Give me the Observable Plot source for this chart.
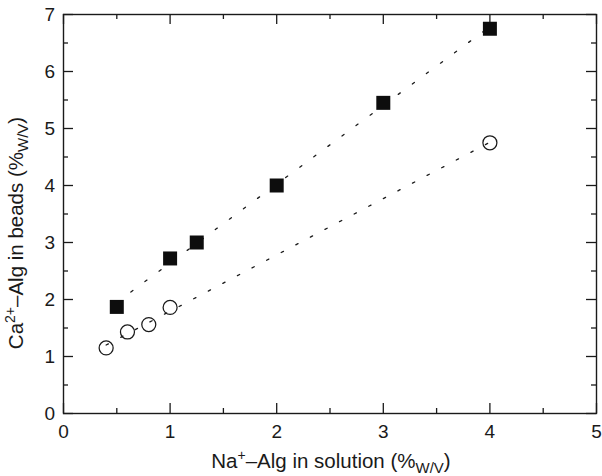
<!DOCTYPE html>
<html>
<head>
<meta charset="utf-8">
<script src="https://cdn.jsdelivr.net/npm/d3@7"></script>
<script src="https://cdn.jsdelivr.net/npm/@observablehq/plot@0.6"></script>
<style>
  html, body { margin: 0; padding: 0; background: white; }
</style>
</head>
<body>
<div id="chart"></div>
<script>
// Filled squares series
const squareX = [0.5, 1.0, 1.25, 2.0, 3.0, 4.0];
const squareY = [1.87, 2.72, 3.0, 4.0, 5.45, 6.75];
// Open circles series
const circleX = [0.4, 0.6, 0.8, 1.0, 4.0];
const circleY = [1.15, 1.43, 1.56, 1.86, 4.75];
// Ticks
const xMajor = [0, 1, 2, 3, 4, 5];
const xMinor = [0.5, 1.5, 2.5, 3.5, 4.5];
const yMajor = [0, 1, 2, 3, 4, 5, 6, 7];
const yMinor = [0.5, 1.5, 2.5, 3.5, 4.5, 5.5, 6.5];

const squares = squareX.map((x, i) => ({x, y: squareY[i]}));
const circles = circleX.map((x, i) => ({x, y: circleY[i]}));

const ink = "#1a1a1a";
const W = 602, H = 476, mL = 63, mR = 6, mT = 14, mB = 63;
const innerW = W - mL - mR, innerH = H - mT - mB;
const fmt = d3.format("d");

const svg = Plot.plot({
  width: W,
  height: H,
  marginLeft: mL,
  marginRight: mR,
  marginTop: mT,
  marginBottom: mB,
  x: {domain: [0, 5]},
  y: {domain: [0, 7]},
  style: {fontFamily: "'Liberation Sans', Arial, sans-serif", fontSize: "19px", color: ink, background: "white"},
  marks: [
    // inward tick marks on all four sides
    Plot.ruleX(xMajor, {insetTop: innerH - 10, stroke: ink, strokeWidth: 1.3}),
    Plot.ruleX(xMinor, {insetTop: innerH - 5, stroke: ink, strokeWidth: 1.3}),
    Plot.ruleX(xMajor, {insetBottom: innerH - 10, stroke: ink, strokeWidth: 1.3}),
    Plot.ruleX(xMinor, {insetBottom: innerH - 5, stroke: ink, strokeWidth: 1.3}),
    Plot.ruleY(yMajor, {insetRight: innerW - 10, stroke: ink, strokeWidth: 1.3}),
    Plot.ruleY(yMinor, {insetRight: innerW - 5, stroke: ink, strokeWidth: 1.3}),
    Plot.ruleY(yMajor, {insetLeft: innerW - 10, stroke: ink, strokeWidth: 1.3}),
    Plot.ruleY(yMinor, {insetLeft: innerW - 5, stroke: ink, strokeWidth: 1.3}),
    Plot.frame({stroke: ink, strokeWidth: 1.4}),
    // tick labels
    Plot.axisX(xMajor, {anchor: "bottom", tickSize: 0, tickPadding: 11, tickFormat: fmt, label: null, fontSize: 19}),
    Plot.axisY(yMajor, {anchor: "left", tickSize: 0, tickPadding: 8.5, tickFormat: fmt, label: null, fontSize: 19}),
    // fitted dotted lines
    Plot.linearRegressionY(squares, {x: "x", y: "y", ci: 0, stroke: ink, strokeWidth: 1.3, strokeDasharray: "2.5,15"}),
    Plot.linearRegressionY(circles, {x: "x", y: "y", ci: 0, stroke: ink, strokeWidth: 1.3, strokeDasharray: "2.5,14"}),
    // markers
    Plot.dot(circles, {x: "x", y: "y", r: 7, stroke: ink, strokeWidth: 1.25, fill: "none"}),
    Plot.dot(squares, {x: "x", y: "y", symbol: "square", r: 7.9, fill: "#0d0d0d", stroke: "none"})
  ]
});

const s = d3.select(svg);
// x-axis title
const xt = s.append("text")
  .attr("x", 331).attr("y", 468)
  .attr("text-anchor", "middle")
  .attr("font-size", 20.5)
  .attr("fill", ink);
xt.append("tspan").text("Na");
xt.append("tspan").attr("font-size", 14).attr("dy", -8).text("+");
xt.append("tspan").attr("dy", 8).text("–Alg in solution (%");
xt.append("tspan").attr("font-size", 15).attr("dy", 5).text("W/V");
xt.append("tspan").attr("dy", -5).text(")");

// y-axis title
const yt = s.append("text")
  .attr("transform", "translate(23,233) rotate(-90)")
  .attr("text-anchor", "middle")
  .attr("font-size", 20.5)
  .attr("fill", ink);
yt.append("tspan").text("Ca");
yt.append("tspan").attr("font-size", 14).attr("dy", -8).text("2+");
yt.append("tspan").attr("dy", 8).text("–Alg in beads (%");
yt.append("tspan").attr("font-size", 15).attr("dy", 5).text("W/V");
yt.append("tspan").attr("dy", -5).text(")");

document.getElementById("chart").appendChild(svg);
</script>
</body>
</html>
